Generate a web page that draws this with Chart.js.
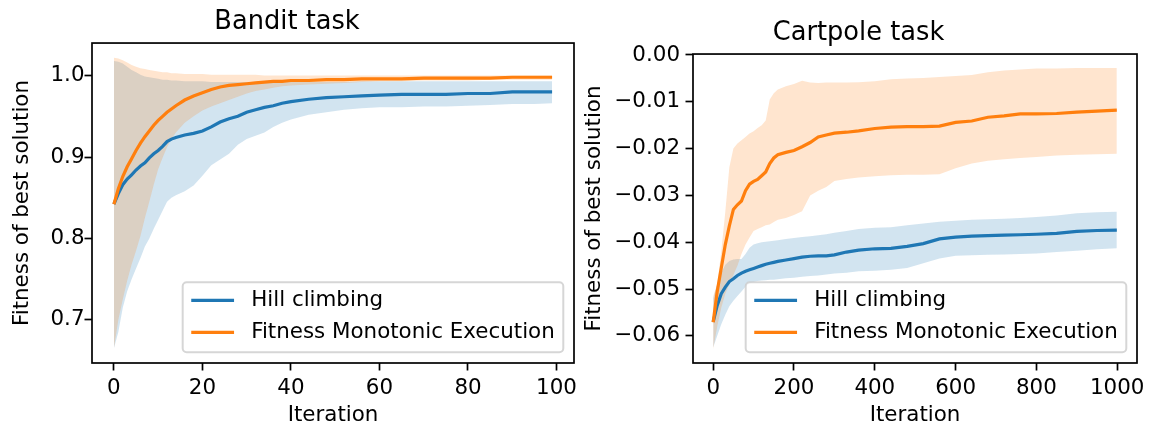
<!DOCTYPE html>
<html>
<head>
<meta charset="utf-8">
<script src="https://cdn.jsdelivr.net/npm/chart.js@4.4.0/dist/chart.umd.min.js"></script>
<style>
    html, body { margin: 0; padding: 0; background: #fff; }
    body { width: 1149px; height: 427px; position: relative; overflow: hidden; }
    .panel { position: absolute; top: 0; height: 427px; }
    #banditPanel { left: 0; width: 585px; }
    #cartpolePanel { left: 580px; width: 569px; }
</style>
</head>
<body>
<div class="panel" id="banditPanel"><canvas id="banditChart" width="585" height="427"></canvas></div>
<div class="panel" id="cartpolePanel"><canvas id="cartpoleChart" width="569" height="427"></canvas></div>
<script>
// Series names (legend)
const seriesNames = ['Hill climbing', 'Fitness Monotonic Execution'];

// Bandit task
const banditIter = [0, 1, 2, 3, 4, 5, 6, 7, 8, 9, 10, 11, 12, 13, 14, 16, 18, 20, 22, 24, 26, 28, 30, 32, 34, 36, 38, 40, 44, 48, 52, 56, 60, 65, 70, 75, 80, 85, 90, 95, 99];
const banditHillMean = [0.842, 0.855, 0.866, 0.873, 0.878, 0.884, 0.889, 0.893, 0.899, 0.904, 0.908, 0.913, 0.919, 0.922, 0.924, 0.927, 0.929, 0.932, 0.937, 0.943, 0.947, 0.950, 0.955, 0.958, 0.961, 0.963, 0.966, 0.968, 0.971, 0.973, 0.974, 0.975, 0.976, 0.977, 0.977, 0.977, 0.978, 0.978, 0.980, 0.980, 0.980];
const banditHillLow = [0.665, 0.685, 0.715, 0.735, 0.750, 0.763, 0.776, 0.790, 0.800, 0.812, 0.823, 0.834, 0.845, 0.850, 0.853, 0.858, 0.865, 0.877, 0.890, 0.897, 0.904, 0.915, 0.922, 0.926, 0.930, 0.937, 0.942, 0.946, 0.952, 0.955, 0.958, 0.960, 0.961, 0.961, 0.962, 0.962, 0.963, 0.964, 0.965, 0.965, 0.966];
const banditHillHigh = [1.018, 1.017, 1.015, 1.011, 1.007, 1.004, 1.001, 0.999, 0.998, 0.997, 0.996, 0.995, 0.995, 0.994, 0.994, 0.993, 0.993, 0.993, 0.992, 0.992, 0.992, 0.992, 0.992, 0.992, 0.992, 0.992, 0.992, 0.992, 0.992, 0.992, 0.992, 0.993, 0.993, 0.993, 0.993, 0.993, 0.993, 0.993, 0.993, 0.993, 0.993];
const banditFmeMean = [0.842, 0.861, 0.876, 0.888, 0.898, 0.908, 0.917, 0.925, 0.932, 0.939, 0.945, 0.950, 0.955, 0.959, 0.963, 0.970, 0.975, 0.979, 0.983, 0.986, 0.988, 0.989, 0.990, 0.991, 0.992, 0.993, 0.993, 0.994, 0.994, 0.995, 0.995, 0.996, 0.996, 0.996, 0.997, 0.997, 0.997, 0.997, 0.998, 0.998, 0.998];
const banditFmeLow = [0.665, 0.700, 0.725, 0.748, 0.768, 0.785, 0.803, 0.825, 0.845, 0.866, 0.885, 0.899, 0.912, 0.922, 0.930, 0.942, 0.950, 0.957, 0.962, 0.966, 0.970, 0.974, 0.978, 0.981, 0.983, 0.985, 0.987, 0.988, 0.989, 0.990, 0.991, 0.992, 0.993, 0.993, 0.994, 0.994, 0.994, 0.995, 0.995, 0.995, 0.995];
const banditFmeHigh = [1.022, 1.021, 1.019, 1.016, 1.013, 1.011, 1.009, 1.008, 1.007, 1.006, 1.005, 1.004, 1.004, 1.003, 1.003, 1.002, 1.002, 1.002, 1.001, 1.001, 1.001, 1.001, 1.001, 1.001, 1.000, 1.000, 1.000, 1.000, 1.000, 1.000, 1.000, 1.000, 1.000, 1.000, 1.000, 1.000, 1.000, 1.000, 1.000, 1.000, 1.000];
const banditXTicks = [0, 20, 40, 60, 80, 100];
const banditYTicks = [0.7, 0.8, 0.9, 1.0];

// Cartpole task
const cartpoleIter = [0, 10, 20, 30, 40, 50, 60, 70, 80, 90, 100, 110, 120, 130, 140, 150, 160, 180, 200, 220, 240, 260, 280, 300, 330, 360, 400, 440, 480, 520, 560, 600, 640, 680, 720, 760, 800, 850, 900, 950, 999];
const cartpoleHillMean = [-0.0570, -0.0535, -0.0510, -0.0496, -0.0484, -0.0478, -0.0471, -0.0466, -0.0462, -0.0459, -0.0456, -0.0453, -0.0450, -0.0447, -0.0445, -0.0443, -0.0441, -0.0438, -0.0435, -0.0432, -0.0430, -0.0429, -0.0429, -0.0427, -0.0421, -0.0417, -0.0414, -0.0413, -0.0409, -0.0403, -0.0393, -0.0389, -0.0387, -0.0386, -0.0385, -0.0384, -0.0383, -0.0381, -0.0377, -0.0375, -0.0374];
const cartpoleHillLow = [-0.0625, -0.0600, -0.0575, -0.0555, -0.0537, -0.0525, -0.0515, -0.0505, -0.0495, -0.0488, -0.0485, -0.0483, -0.0482, -0.0481, -0.0480, -0.0480, -0.0479, -0.0477, -0.0476, -0.0474, -0.0472, -0.0471, -0.0469, -0.0467, -0.0465, -0.0462, -0.0461, -0.0459, -0.0455, -0.0445, -0.0435, -0.0429, -0.0428, -0.0427, -0.0426, -0.0425, -0.0424, -0.0421, -0.0418, -0.0415, -0.0413];
const cartpoleHillHigh = [-0.0520, -0.0490, -0.0465, -0.0448, -0.0440, -0.0437, -0.0436, -0.0436, -0.0425, -0.0412, -0.0405, -0.0402, -0.0400, -0.0399, -0.0398, -0.0397, -0.0396, -0.0393, -0.0391, -0.0389, -0.0387, -0.0385, -0.0383, -0.0380, -0.0376, -0.0372, -0.0369, -0.0368, -0.0364, -0.0360, -0.0356, -0.0354, -0.0352, -0.0351, -0.0350, -0.0348, -0.0346, -0.0343, -0.0338, -0.0336, -0.0335];
const cartpoleFmeMean = [-0.0571, -0.0505, -0.0455, -0.0405, -0.0365, -0.0330, -0.0320, -0.0312, -0.0290, -0.0276, -0.0270, -0.0266, -0.0258, -0.0250, -0.0232, -0.0220, -0.0213, -0.0208, -0.0204, -0.0196, -0.0187, -0.0175, -0.0171, -0.0167, -0.0165, -0.0162, -0.0157, -0.0154, -0.0153, -0.0153, -0.0152, -0.0144, -0.0141, -0.0133, -0.0130, -0.0126, -0.0126, -0.0125, -0.0122, -0.0120, -0.0118];
const cartpoleFmeLow = [-0.0628, -0.0580, -0.0540, -0.0510, -0.0490, -0.0470, -0.0450, -0.0425, -0.0405, -0.0390, -0.0376, -0.0372, -0.0368, -0.0364, -0.0362, -0.0357, -0.0352, -0.0348, -0.0342, -0.0334, -0.0300, -0.0290, -0.0282, -0.0269, -0.0265, -0.0262, -0.0259, -0.0257, -0.0256, -0.0256, -0.0255, -0.0242, -0.0232, -0.0226, -0.0223, -0.0220, -0.0218, -0.0215, -0.0213, -0.0212, -0.0211];
const cartpoleFmeHigh = [-0.0515, -0.0490, -0.0420, -0.0335, -0.0240, -0.0200, -0.0189, -0.0182, -0.0175, -0.0168, -0.0163, -0.0156, -0.0150, -0.0140, -0.0095, -0.0082, -0.0074, -0.0067, -0.0062, -0.0055, -0.0059, -0.0060, -0.0059, -0.0059, -0.0059, -0.0058, -0.0056, -0.0052, -0.0050, -0.0049, -0.0047, -0.0045, -0.0043, -0.0037, -0.0033, -0.0031, -0.0029, -0.0029, -0.0028, -0.0028, -0.0028];
const cartpoleXTicks = [0, 200, 400, 600, 800, 1000];
const cartpoleYTicks = [0, -0.01, -0.02, -0.03, -0.04, -0.05, -0.06];

const BLUE = '#1f77b4';
const ORANGE = '#ff7f0e';
const FONT = 'DejaVu Sans';

Chart.defaults.font.family = FONT;
Chart.defaults.color = '#000';

// Helpers
const points = (xs, ys) => xs.map((x, i) => ({ x, y: ys[i] }));

function bandDatasets(xs, low, high, color, order) {
    return [{
        data: points(xs, low),
        borderWidth: 0,
        pointRadius: 0,
        fill: false,
        order
    }, {
        data: points(xs, high),
        borderWidth: 0,
        pointRadius: 0,
        fill: '-1',
        backgroundColor: color,
        order
    }];
}

function lineDataset(xs, ys, color, label, order) {
    return {
        label,
        data: points(xs, ys),
        borderColor: color,
        borderWidth: 3.2,
        pointRadius: 0,
        tension: 0,
        fill: false,
        order
    };
}

// Keep the axis boxes exactly where we want them
function fixBox(s, size) {
    if (s.isHorizontal()) s.height = size; else s.width = size;
    s.paddingLeft = 0;
    s.paddingRight = 0;
    s.paddingTop = 0;
    s.paddingBottom = 0;
}

// Axes frame (all four spines)
const frame = {
    id: 'frame',
    afterDatasetsDraw(chart) {
        const { ctx, chartArea: a } = chart;
        ctx.save();
        ctx.strokeStyle = '#000';
        ctx.lineWidth = 1.7;
        ctx.strokeRect(a.left, a.top, a.right - a.left, a.bottom - a.top);
        ctx.restore();
    }
};

// Boxed legend in the lower right of the axes
const boxLegend = {
    id: 'boxLegend',
    afterDraw(chart, args, opts) {
        const { ctx, chartArea: a } = chart;
        const em = opts.fontSize;
        const lines = chart.data.datasets.filter(d => d.label);
        ctx.save();
        ctx.font = `${em}px "${FONT}"`;
        const textW = Math.max(...lines.map(d => ctx.measureText(d.label).width));
        const w = em * 0.8 + em * 2 + em * 0.8 + textW;
        const h = opts.height;
        const right = a.right - em * 0.5;
        const bottom = a.bottom - em * 0.5;
        const left = right - w;
        const top = bottom - h;

        ctx.beginPath();
        ctx.roundRect(left, top, w, h, 4);
        ctx.fillStyle = 'rgba(255,255,255,0.8)';
        ctx.fill();
        ctx.strokeStyle = 'rgba(204,204,204,0.8)';
        ctx.lineWidth = 2;
        ctx.stroke();

        lines.forEach((d, i) => {
            const y = top + opts.rowTop + i * opts.rowGap;
            ctx.strokeStyle = d.borderColor;
            ctx.lineWidth = 3.2;
            ctx.beginPath();
            ctx.moveTo(left + em * 0.4, y);
            ctx.lineTo(left + em * 2.4, y);
            ctx.stroke();
            ctx.fillStyle = '#000';
            ctx.textBaseline = 'middle';
            ctx.textAlign = 'left';
            ctx.fillText(d.label, left + em * 3.2, y);
        });
        ctx.restore();
    }
};

function buildChart(id, cfg) {
    const ctx = document.getElementById(id).getContext('2d');
    return new Chart(ctx, {
        type: 'line',
        data: {
            datasets: [
                ...bandDatasets(cfg.iter, cfg.hillLow, cfg.hillHigh, 'rgba(31,119,180,0.2)', 4),
                ...bandDatasets(cfg.iter, cfg.fmeLow, cfg.fmeHigh, 'rgba(255,127,14,0.2)', 3),
                lineDataset(cfg.iter, cfg.hillMean, BLUE, seriesNames[0], 2),
                lineDataset(cfg.iter, cfg.fmeMean, ORANGE, seriesNames[1], 1)
            ]
        },
        options: {
            responsive: false,
            animation: false,
            devicePixelRatio: 1,
            layout: { padding: { left: 0, right: cfg.padRight, top: 0, bottom: 0 } },
            plugins: {
                legend: { display: false },
                tooltip: { enabled: false },
                title: {
                    display: true,
                    text: cfg.title,
                    color: '#000',
                    font: { size: 25.7, weight: 'normal' },
                    padding: { top: cfg.titleTop, bottom: 5.6 }
                },
                boxLegend: { fontSize: 21.4, height: 70, rowTop: 18, rowGap: 32 }
            },
            scales: {
                x: {
                    type: 'linear',
                    min: cfg.xMin,
                    max: cfg.xMax,
                    afterBuildTicks: s => { s.ticks = cfg.xTicks.map(v => ({ value: v })); },
                    afterFit: s => fixBox(s, 64),
                    border: { display: false },
                    grid: { drawOnChartArea: false, drawTicks: true, tickLength: 7.5, tickWidth: 1.7, tickColor: '#000' },
                    ticks: { autoSkip: false, maxRotation: 0, padding: 5, font: { size: 21.4 }, callback: v => String(v) },
                    title: { display: true, text: 'Iteration', font: { size: 21.4 }, padding: { top: 0, bottom: -1 } }
                },
                y: {
                    type: 'linear',
                    min: cfg.yMin,
                    max: cfg.yMax,
                    afterBuildTicks: s => { s.ticks = cfg.yTicks.map(v => ({ value: v })); },
                    afterFit: s => fixBox(s, cfg.yWidth),
                    border: { display: false },
                    grid: { drawOnChartArea: false, drawTicks: true, tickLength: 7.5, tickWidth: 1.7, tickColor: '#000' },
                    ticks: { autoSkip: false, padding: cfg.yPad, font: { size: 21.4 }, callback: cfg.yFormat },
                    title: { display: true, text: 'Fitness of best solution', font: { size: 21.4 }, padding: { top: cfg.yTitlePad, bottom: 0 } }
                }
            }
        },
        plugins: [frame, boxLegend]
    });
}

// Bandit Chart
buildChart('banditChart', {
    title: 'Bandit task',
    titleTop: 6.6,
    padRight: 11,
    yWidth: 92,
    yPad: 0,
    yTitlePad: 9.8,
    iter: banditIter,
    hillMean: banditHillMean, hillLow: banditHillLow, hillHigh: banditHillHigh,
    fmeMean: banditFmeMean, fmeLow: banditFmeLow, fmeHigh: banditFmeHigh,
    xMin: -4.95, xMax: 103.95, xTicks: banditXTicks,
    yMin: 0.647, yMax: 1.040, yTicks: banditYTicks,
    yFormat: v => v.toFixed(1)
});

// Cartpole Chart
buildChart('cartpoleChart', {
    title: 'Cartpole task',
    titleTop: 17.6,
    padRight: 12,
    yWidth: 113,
    yPad: 5.5,
    yTitlePad: 1.5,
    iter: cartpoleIter,
    hillMean: cartpoleHillMean, hillLow: cartpoleHillLow, hillHigh: cartpoleHillHigh,
    fmeMean: cartpoleFmeMean, fmeLow: cartpoleFmeLow, fmeHigh: cartpoleFmeHigh,
    xMin: -49.95, xMax: 1048.95, xTicks: cartpoleXTicks,
    yMin: -0.0658, yMax: 0.0002, yTicks: cartpoleYTicks,
    yFormat: v => (v < 0 ? '\u2212' : '') + Math.abs(v).toFixed(2)
});
</script>
</body>
</html>
